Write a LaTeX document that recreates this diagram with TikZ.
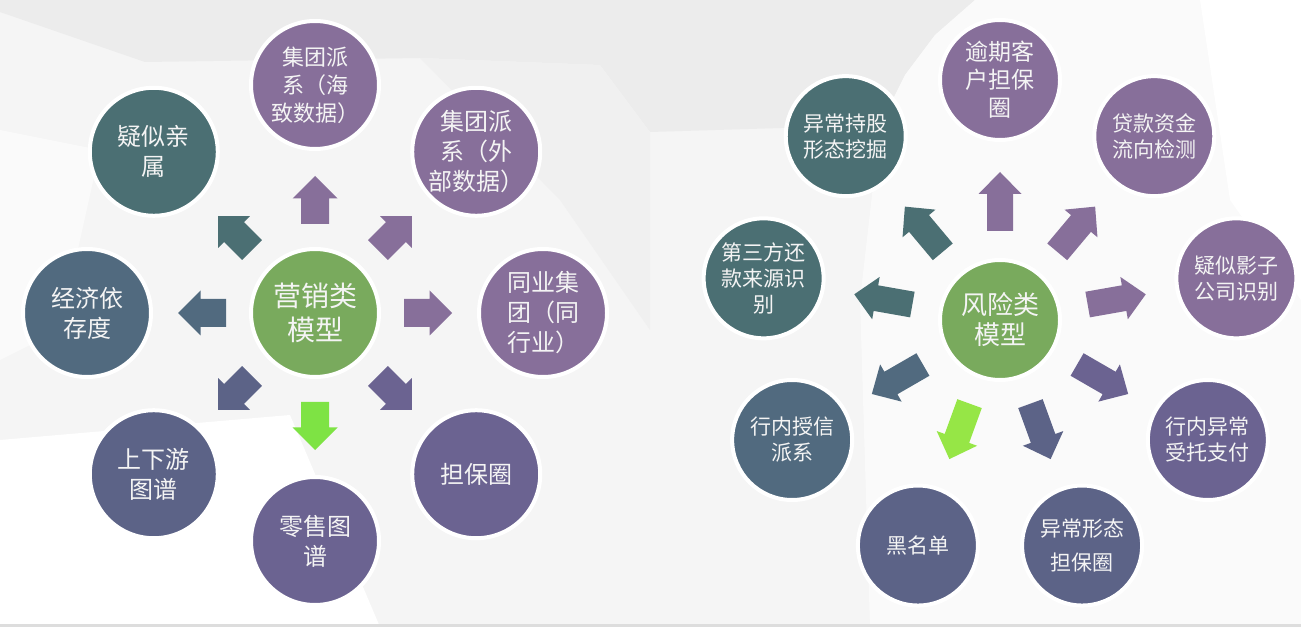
\documentclass[tikz,border=0pt]{standalone}
\usepackage{fontspec}
\newfontfamily\cjk{Noto Sans CJK SC}
\usetikzlibrary{calc}
\definecolor{cteal}{HTML}{4B6F73}
\definecolor{csl}{HTML}{516A7F}
\definecolor{cbp}{HTML}{5C6387}
\definecolor{cpd}{HTML}{6B6391}
\definecolor{cpl}{HTML}{876F9A}
\definecolor{cgreen}{HTML}{79AA5D}
\definecolor{cgl}{HTML}{7EE344}
\definecolor{cgr}{HTML}{96E646}
\definecolor{txt}{HTML}{F4F4F4}
\definecolor{bg0}{HTML}{F5F5F5}
\definecolor{bg1}{HTML}{ECECEC}
\definecolor{bg2}{HTML}{FAFAFA}
\definecolor{bg3}{HTML}{F0F0F0}
\definecolor{bline}{HTML}{DDDDDD}
\tikzset{
  bub/.style={circle, draw=white, line width=4pt, inner sep=0pt, align=center, text=txt},
  lbub/.style={bub, minimum size=128pt, font=\cjk\fontsize{24}{30}\selectfont},
  rbub/.style={bub, minimum size=120pt, font=\cjk\fontsize{21}{26}\selectfont},
}
% #1 node, #2 angle, #3 colour, #4 r start, #5 r tip, #6 half head width, #7 head length, #8 half shaft width
\newcommand\blockarr[8]{%
  \fill[#3,shift={(#1.center)},rotate=#2] (#4,-#8) -- ({#5-#7},-#8) -- ({#5-#7},-#6) -- (#5,0)
    -- ({#5-#7},#6) -- ({#5-#7},#8) -- (#4,#8) -- cycle;}
\begin{document}
\begin{tikzpicture}[x=1pt,y=1pt]
\useasboundingbox (0,0) rectangle (1301,627);
% background facets (y-down coordinates)
\begin{scope}[yshift=627pt,yscale=-1]
  \fill[bg0] (0,0) rectangle (1301,627);
  \fill[bg1] (0,0) -- (975,0) -- (935,35) -- (905,75) -- (880,125) -- (650,132) -- (600,65) -- (420,58) -- (145,62) -- (0,12) -- cycle;
  \fill[bg3] (600,65) -- (650,132) -- (650,330) -- (560,200) -- (420,58) -- cycle;
  \fill[bg2] (975,0) -- (1301,0) -- (1301,627) -- (870,627) -- (860,300) -- (880,125) -- (905,75) -- (935,35) -- cycle;
  \fill[white] (1200,0) -- (1301,0) -- (1301,300) -- (1230,200) -- cycle;
  \fill[white] (0,440) -- (290,415) -- (380,627) -- (0,627) -- cycle;
  \fill[bg2] (0,130) -- (100,150) -- (60,330) -- (0,360) -- cycle;
  \fill[bline] (0,624) rectangle (1301,627);
\end{scope}

% ---------- left diagram ----------
\node[lbub, fill=cgreen, font=\cjk\fontsize{28}{34}\selectfont] (L) at (315,314) {营销类\\模型};
\node[lbub, fill=cpl, font=\cjk\fontsize{22}{28}\selectfont] (L1) at ($(L)+(90:228)$) {集团派\\系（海\\致数据）};
\node[lbub, fill=cpl] (L2) at ($(L)+(45:228)$) {集团派\\系（外\\部数据）};
\node[lbub, fill=cpl] (L3) at ($(L)+(0:228)$) {同业集\\团（同\\行业）};
\node[lbub, fill=cpd] (L4) at ($(L)+(-45:228)$) {担保圈};
\node[lbub, fill=cpd] (L5) at ($(L)+(-90:228)$) {零售图\\谱};
\node[lbub, fill=cbp] (L6) at ($(L)+(-135:228)$) {上下游\\图谱};
\node[lbub, fill=csl] (L7) at ($(L)+(180:228)$) {经济依\\存度};
\node[lbub, fill=cteal] (L8) at ($(L)+(135:228)$) {疑似亲\\属};

\blockarr{L}{90}{cpl}{89}{137}{22.5}{22.5}{14}
\blockarr{L}{45}{cpl}{89}{137}{22.5}{22.5}{14}
\blockarr{L}{0}{cpl}{89}{137}{22.5}{22.5}{14}
\blockarr{L}{-45}{cpd}{89}{137}{22.5}{22.5}{14}
\blockarr{L}{-90}{cgl}{89}{137}{22.5}{22.5}{14}
\blockarr{L}{-135}{cbp}{89}{137}{22.5}{22.5}{14}
\blockarr{L}{180}{csl}{89}{137}{22.5}{22.5}{14}
\blockarr{L}{135}{cteal}{89}{137}{22.5}{22.5}{14}

% ---------- right diagram ----------
\node[rbub, fill=cgreen, font=\cjk\fontsize{26}{30}\selectfont] (R) at (1000,307) {风险类\\模型};
\node[rbub, fill=cpl, font=\cjk\fontsize{23}{28}\selectfont] (R1) at ($(R)+(90:240)$) {逾期客\\户担保\\圈};
\node[rbub, fill=cpl] (R2) at ($(R)+(50:240)$) {贷款资金\\流向检测};
\node[rbub, fill=cpl] (R3) at ($(R)+(10:240)$) {疑似影子\\公司识别};
\node[rbub, fill=cpd] (R4) at ($(R)+(-30:240)$) {行内异常\\受托支付};
\node[rbub, fill=cbp, font=\cjk\fontsize{21}{34}\selectfont] (R5) at ($(R)+(-70:240)$) {异常形态\\担保圈};
\node[rbub, fill=cbp] (R6) at ($(R)+(-110:240)$) {黑名单};
\node[rbub, fill=csl] (R7) at ($(R)+(-150:240)$) {行内授信\\派系};
\node[rbub, fill=cteal] (R8) at ($(R)+(170:240)$) {第三方还\\款来源识\\别};
\node[rbub, fill=cteal] (R9) at ($(R)+(130:240)$) {异常持股\\形态挖掘};

\blockarr{R}{90}{cpl}{89}{148}{21.5}{22}{13}
\blockarr{R}{50}{cpl}{89}{148}{21.5}{22}{13}
\blockarr{R}{10}{cpl}{89}{148}{21.5}{22}{13}
\blockarr{R}{-30}{cpd}{89}{148}{21.5}{22}{13}
\blockarr{R}{-70}{cbp}{89}{148}{21.5}{22}{13}
\blockarr{R}{-110}{cgr}{89}{148}{21.5}{22}{13}
\blockarr{R}{-150}{csl}{89}{148}{21.5}{22}{13}
\blockarr{R}{170}{cteal}{89}{148}{21.5}{22}{13}
\blockarr{R}{130}{cteal}{89}{148}{21.5}{22}{13}
\end{tikzpicture}
\end{document}
